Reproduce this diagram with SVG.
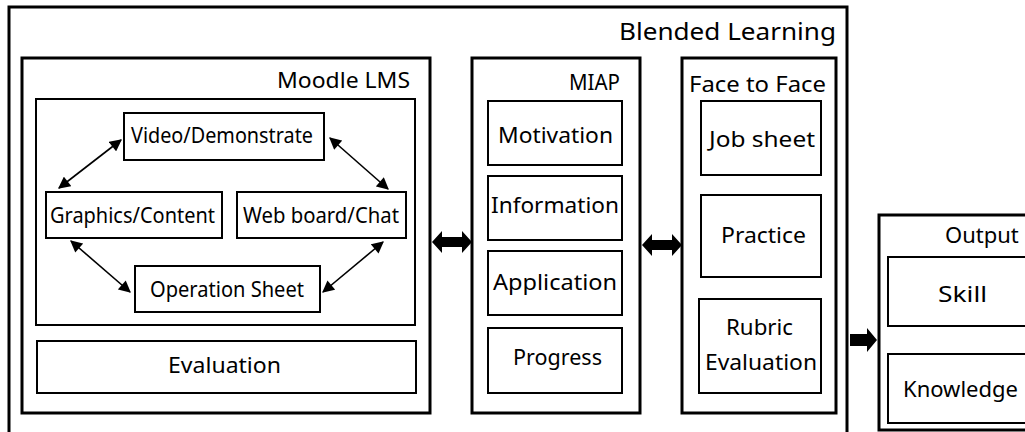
<svg xmlns="http://www.w3.org/2000/svg" width="1025" height="432" viewBox="0 0 1025 432">
<style>
  .thick { fill: #fff; stroke: #000; stroke-width: 3; }
  .thin { fill: #fff; stroke: #000; stroke-width: 2; }
  text { font-family: "Noto Sans", "Open Sans", sans-serif; font-size: 22px; fill: #000; text-anchor: middle; }
  .big { font-size: 24px; }
  .conn { stroke: #000; stroke-width: 1.6; fill: none; marker-start: url(#ah); marker-end: url(#ah); }
  .block { fill: #000; stroke: none; }
</style>
<defs>
  <marker id="ah" viewBox="0 0 10 10" refX="9" refY="5" markerWidth="13" markerHeight="12" markerUnits="userSpaceOnUse" orient="auto-start-reverse">
    <path d="M0,0 L10,5 L0,10 z" fill="#000"/>
  </marker>
</defs>
<rect width="1025" height="432" fill="#fff"/>

<g id="blended">
  <rect class="thick" x="9" y="7" width="838" height="440"/>
  <text class="big" x="727.5" y="40" textLength="217" lengthAdjust="spacingAndGlyphs">Blended Learning</text>
</g>

<g id="moodle">
  <rect class="thick" x="22" y="58" width="408" height="355"/>
  <text x="343.5" y="88" textLength="133" lengthAdjust="spacingAndGlyphs">Moodle LMS</text>
  <rect class="thin" x="36" y="99" width="379" height="226"/>
</g>
<g id="video">
  <rect class="thin" x="124" y="113" width="200" height="47"/>
  <text x="222" y="143" textLength="182" lengthAdjust="spacingAndGlyphs">Video/Demonstrate</text>
</g>
<g id="graphics">
  <rect class="thin" x="46" y="192" width="176" height="46"/>
  <text x="132.5" y="223" textLength="165" lengthAdjust="spacingAndGlyphs">Graphics/Content</text>
</g>
<g id="webboard">
  <rect class="thin" x="237" y="192" width="169" height="46"/>
  <text x="321" y="223" textLength="156" lengthAdjust="spacingAndGlyphs">Web board/Chat</text>
</g>
<g id="operation">
  <rect class="thin" x="135" y="266" width="185" height="46"/>
  <text x="227" y="297" textLength="154" lengthAdjust="spacingAndGlyphs">Operation Sheet</text>
</g>
<g id="evaluation">
  <rect class="thin" x="37" y="341" width="379" height="52"/>
  <text x="224.5" y="373" textLength="113" lengthAdjust="spacingAndGlyphs">Evaluation</text>
</g>

<g id="miap">
  <rect class="thick" x="472" y="58" width="168" height="355"/>
  <text x="594.5" y="90" textLength="51" lengthAdjust="spacingAndGlyphs">MIAP</text>
</g>
<g id="motivation">
  <rect class="thin" x="488" y="101" width="134" height="64"/>
  <text x="555.5" y="143" textLength="115" lengthAdjust="spacingAndGlyphs">Motivation</text>
</g>
<g id="information">
  <rect class="thin" x="488" y="176" width="134" height="64"/>
  <text x="555" y="213" textLength="128" lengthAdjust="spacingAndGlyphs">Information</text>
</g>
<g id="application">
  <rect class="thin" x="488" y="251" width="134" height="64"/>
  <text x="555" y="290" textLength="124" lengthAdjust="spacingAndGlyphs">Application</text>
</g>
<g id="progress">
  <rect class="thin" x="488" y="328" width="134" height="65"/>
  <text x="557.5" y="365" textLength="89" lengthAdjust="spacingAndGlyphs">Progress</text>
</g>

<g id="face">
  <rect class="thick" x="682" y="58" width="154" height="355"/>
  <text x="757.5" y="92" textLength="137" lengthAdjust="spacingAndGlyphs">Face to Face</text>
</g>
<g id="jobsheet">
  <rect class="thin" x="701" y="101" width="120" height="74"/>
  <text x="762" y="147" textLength="106" lengthAdjust="spacingAndGlyphs">Job sheet</text>
</g>
<g id="practice">
  <rect class="thin" x="701" y="195" width="120" height="82"/>
  <text x="763.5" y="243" textLength="85" lengthAdjust="spacingAndGlyphs">Practice</text>
</g>
<g id="rubric">
  <rect class="thin" x="699" y="299" width="122" height="94"/>
  <text x="759.5" y="335" textLength="67" lengthAdjust="spacingAndGlyphs">Rubric</text>
  <text x="761" y="370" textLength="112" lengthAdjust="spacingAndGlyphs">Evaluation</text>
</g>

<g id="output">
  <rect class="thick" x="879" y="215" width="170" height="215"/>
  <text x="945" y="243" style="text-anchor:start">Output</text>
</g>
<g id="skill">
  <rect class="thin" x="888" y="257" width="160" height="69"/>
  <text x="962.5" y="302" textLength="49" lengthAdjust="spacingAndGlyphs">Skill</text>
</g>
<g id="knowledge">
  <rect class="thin" x="888" y="354" width="160" height="69"/>
  <text x="960.5" y="397" textLength="115" lengthAdjust="spacingAndGlyphs">Knowledge</text>
</g>

<g id="connectors">
  <line class="conn" x1="121" y1="140" x2="59" y2="188"/>
  <line class="conn" x1="330" y1="138" x2="388" y2="189"/>
  <line class="conn" x1="71" y1="241" x2="130" y2="292"/>
  <line class="conn" x1="383" y1="242" x2="323" y2="292"/>
  <polygon class="block" points="432,242 442,231 442,237 462,237 462,231 472,242 462,253 462,247 442,247 442,253"/>
  <polygon class="block" points="642,245 652,234 652,240 672,240 672,234 682,245 672,256 672,250 652,250 652,256"/>
  <polygon class="block" points="850,334 867,334 867,328 877,340 867,352 867,346 850,346"/>
</g>
</svg>
